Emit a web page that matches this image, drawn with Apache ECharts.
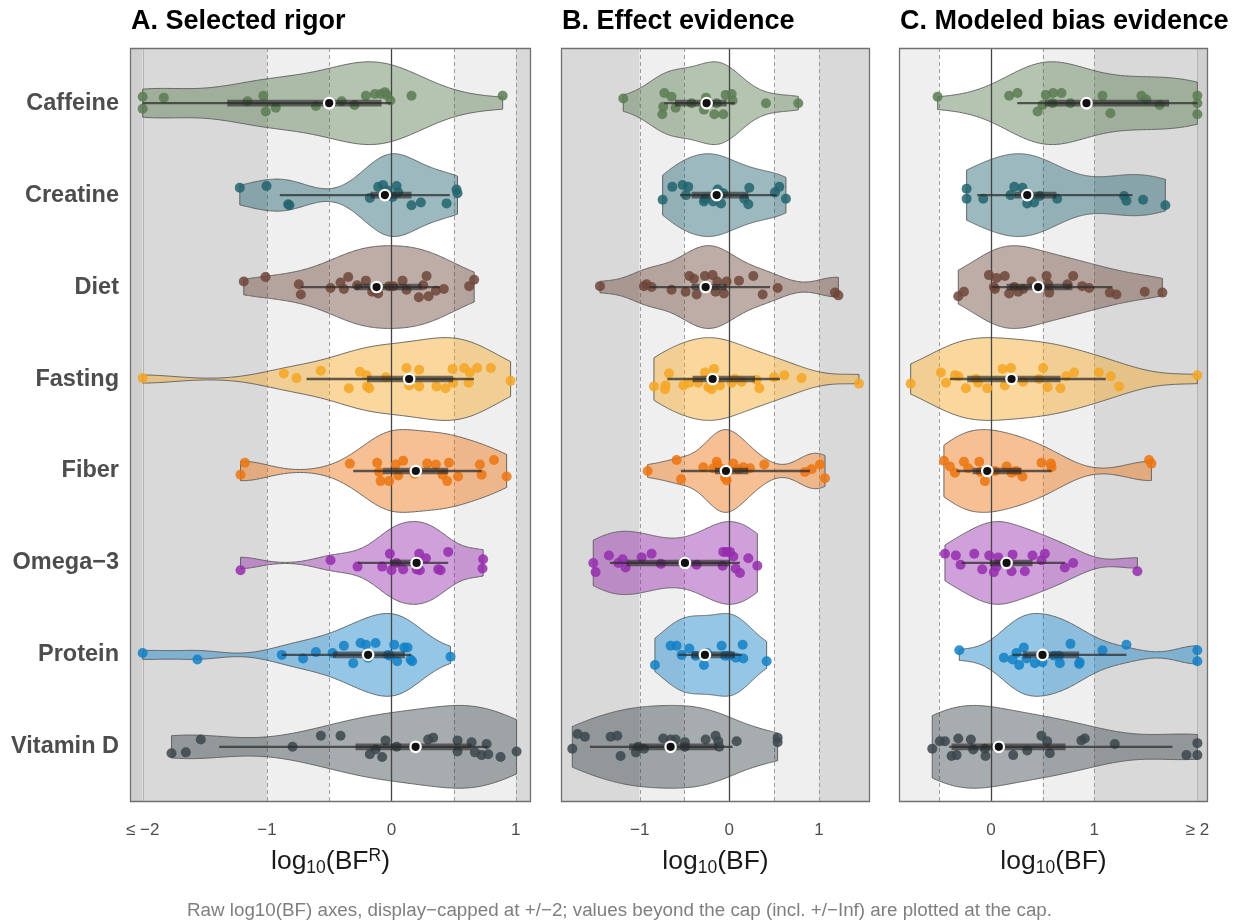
<!DOCTYPE html>
<html><head><meta charset="utf-8">
<script src="https://cdn.jsdelivr.net/npm/echarts@6/dist/echarts.min.js"></script>
<style>html,body{margin:0;padding:0;background:#fff}#c{width:1239px;height:921px}</style>
</head><body><div id="c"></div>
<script>
// ---------------- DATA ----------------
const categories = ['Caffeine','Creatine','Diet','Fasting','Fiber','Omega\u22123','Protein','Vitamin D'];

// points: [log10 value (capped), vertical jitter in category units]
const rigorPoints = [
 [[-2,-0.07],[-2,0.06],[-1.83,-0.06],[-1.157,-0.02],[-1.03,-0.08],[-1.01,0.09],[-0.93,0.05],[-0.607,0.03],[-0.40,-0.02],[-0.296,0.02],[-0.205,-0.08],[-0.133,-0.10],[-0.087,-0.10],[-0.052,-0.12],[-0.039,-0.09],[-0.007,-0.03],[0.162,-0.08],[0.895,-0.08]],
 [[-1.219,-0.08],[-1.004,-0.10],[-0.83,0.10],[-0.82,0.11],[-0.173,0.03],[-0.106,-0.09],[-0.066,-0.11],[-0.03,-0.05],[0.042,-0.10],[0.055,-0.03],[0.01,0.02],[0.162,0.11],[0.237,0.08],[0.444,0.09],[0.524,-0.06],[0.532,-0.02]],
 [[-1.187,-0.06],[-1.012,-0.11],[-0.744,-0.03],[-0.728,0.08],[-0.489,0.01],[-0.409,-0.05],[-0.382,0.02],[-0.347,-0.11],[-0.275,-0.02],[-0.205,-0.07],[-0.154,0.05],[-0.106,0.07],[-0.13,0.04],[-0.018,-0.01],[0.015,-0.01],[0.09,-0.07],[0.122,0.03],[0.221,0.11],[0.256,-0.02],[0.283,-0.12],[0.299,0.10],[0.358,0.04],[0.422,0.02],[0.626,-0.01],[0.666,-0.08]],
 [[-2,-0.01],[-0.865,-0.06],[-0.763,-0.01],[-0.567,-0.09],[-0.342,0.10],[-0.253,-0.08],[-0.2,-0.04],[-0.195,0.08],[-0.178,0.10],[-0.044,-0.02],[0.122,-0.12],[0.143,0.07],[0.224,-0.10],[0.224,0.08],[0.363,0.08],[0.436,0.10],[0.492,-0.11],[0.497,0.04],[0.586,-0.12],[0.621,0.04],[0.631,-0.07],[0.69,-0.12],[0.80,-0.12],[0.959,0.02]],
 [[-1.178,-0.09],[-1.213,0.04],[-0.334,-0.08],[-0.114,-0.09],[-0.098,0.01],[-0.087,0.11],[-0.018,0.11],[0.036,-0.07],[0.055,0.05],[0.095,-0.11],[0.189,0.03],[0.288,-0.08],[0.358,-0.07],[0.412,0.04],[0.449,0.11],[0.463,-0.09],[0.537,0.06],[0.712,-0.07],[0.726,0.04],[0.825,-0.12],[0.927,0.06]],
 [[-1.213,0.08],[-0.489,-0.03],[-0.272,0.04],[-0.074,0.04],[-0.012,-0.10],[0.001,0.08],[0.042,0.0],[0.095,0.07],[0.203,0.07],[0.224,-0.10],[0.229,0.08],[0.278,-0.05],[0.377,0.07],[0.396,0.08],[0.457,-0.12],[0.738,-0.04],[0.733,0.06]],
 [[-2,-0.02],[-1.56,0.05],[-0.881,0.0],[-0.71,0.04],[-0.607,-0.03],[-0.473,-0.02],[-0.382,-0.10],[-0.307,0.09],[-0.248,-0.13],[-0.205,-0.11],[-0.187,0.03],[-0.127,-0.13],[-0.026,0.0],[-0.01,0.01],[0.023,-0.11],[0.047,0.07],[0.103,-0.08],[0.13,-0.08],[0.154,0.05],[0.167,0.07],[0.476,0.02]],
 [[-1.768,0.07],[-1.653,0.06],[-1.533,-0.08],[-0.795,0.0],[-0.567,-0.12],[-0.409,-0.12],[-0.173,0.08],[-0.127,0.03],[-0.074,0.11],[-0.047,-0.07],[0.042,0.0],[0.296,-0.08],[0.336,-0.10],[0.532,-0.07],[0.532,0.05],[0.645,-0.05],[0.672,0.06],[0.726,0.09],[0.766,-0.03],[0.779,0.08],[0.878,0.11],[1.007,0.05]]
];
const effectPoints = [
 [[-1.183,-0.05],[-0.725,-0.11],[-0.644,-0.07],[-0.737,0.04],[-0.748,0.12],[-0.599,0.05],[-0.42,0.0],[-0.26,-0.06],[-0.283,0.07],[-0.167,0.12],[-0.141,0.0],[-0.067,0.12],[-0.041,-0.09],[0.026,-0.10],[0.037,-0.03],[0.409,0.0],[0.77,0.0]],
 [[-0.744,0.05],[-0.636,-0.09],[-0.521,-0.11],[-0.458,-0.09],[-0.484,0.0],[-0.283,0.07],[-0.272,0.04],[-0.179,0.07],[-0.13,-0.06],[-0.093,0.09],[-0.067,-0.02],[0.167,0.04],[0.212,0.10],[0.223,-0.08],[0.51,-0.03],[0.558,-0.09],[0.632,0.04]],
 [[-1.443,-0.01],[-0.952,-0.01],[-0.923,-0.03],[-0.867,0.0],[-0.644,0.03],[-0.487,0.05],[-0.446,-0.12],[-0.394,-0.09],[-0.365,0.08],[-0.272,-0.12],[-0.186,-0.13],[-0.153,0.05],[-0.134,-0.06],[-0.06,0.07],[-0.03,-0.06],[0.108,-0.07],[0.268,-0.12],[0.372,0.08],[0.539,0.01],[1.179,0.06],[1.217,0.09]],
 [[-0.841,0.08],[-0.711,0.07],[-0.718,0.11],[-0.673,-0.06],[-0.513,0.07],[-0.446,0.04],[-0.346,0.04],[-0.272,-0.07],[-0.234,0.09],[-0.197,0.11],[-0.171,-0.11],[-0.104,0.07],[0.026,0.04],[0.063,0.0],[0.138,0.03],[0.305,0.01],[0.335,0.10],[0.499,-0.02],[0.614,-0.04],[0.807,-0.01],[1.447,0.05]],
 [[-0.911,0.0],[-0.588,-0.12],[-0.539,0.09],[-0.29,-0.04],[-0.179,-0.03],[-0.141,-0.10],[-0.13,-0.06],[-0.067,-0.02],[-0.048,0.07],[-0.03,0.10],[0.045,-0.08],[0.1,-0.02],[0.156,-0.04],[0.231,-0.03],[0.39,-0.07],[0.844,0.01],[0.919,-0.02],[1.012,-0.07],[1.068,0.08]],
 [[-1.518,0.0],[-1.492,0.10],[-1.343,-0.08],[-1.239,0.0],[-1.19,-0.04],[-1.157,0.05],[-0.978,-0.06],[-0.867,-0.10],[-0.763,0.01],[-0.487,-0.01],[-0.365,0.02],[-0.067,-0.12],[-0.03,-0.12],[0.007,-0.12],[0.045,-0.07],[-0.074,0.03],[0.071,0.06],[0.119,0.11],[0.212,-0.05],[0.313,0.03]],
 [[-0.83,0.11],[-0.655,-0.10],[-0.588,-0.10],[-0.532,0.0],[-0.446,-0.07],[-0.376,0.01],[-0.283,0.11],[-0.25,-0.02],[-0.086,-0.10],[-0.048,0.01],[0.0,0.01],[0.074,0.03],[0.149,-0.11],[0.156,0.04],[0.417,0.07]],
 [[-1.752,0.02],[-1.693,-0.14],[-1.611,-0.11],[-1.324,-0.11],[-1.25,-0.12],[-1.213,0.10],[-1.042,0.06],[-1.016,0.0],[-0.952,0.02],[-0.737,-0.09],[-0.655,-0.08],[-0.599,-0.08],[-0.495,-0.05],[-0.495,0.0],[-0.264,-0.08],[-0.153,-0.12],[-0.123,-0.06],[-0.112,0.0],[0.082,-0.06],[0.539,-0.10],[0.539,-0.05]]
];
const biasPoints = [
 [[-0.516,-0.07],[0.177,-0.08],[0.258,-0.11],[0.452,0.09],[0.5,0.02],[0.532,-0.09],[0.603,-0.11],[0.597,0.0],[0.684,-0.11],[0.771,0.0],[1.081,-0.08],[1.158,0.11],[1.458,-0.08],[1.506,-0.04],[1.635,0.02],[2,-0.08],[2,0.0],[2,0.12]],
 [[-0.235,-0.07],[-0.235,0.04],[-0.074,0.04],[0.19,0.0],[0.226,-0.09],[0.306,-0.08],[0.352,0.09],[0.419,0.08],[0.474,0.01],[0.642,0.04],[1.29,0.01],[1.313,0.06],[1.474,0.05],[1.69,0.11]],
 [[-0.316,0.10],[-0.261,0.05],[-0.019,-0.13],[0.055,-0.10],[0.135,-0.12],[0.029,0.0],[0.04,0.02],[0.177,0.07],[0.226,0.0],[0.265,0.05],[0.313,0.02],[0.394,-0.06],[0.539,-0.12],[0.555,-0.03],[0.565,0.06],[0.742,-0.03],[0.797,-0.12],[0.884,-0.01],[0.952,0.01],[1.152,0.06],[1.216,0.08],[1.49,0.05],[1.661,0.06]],
 [[-0.777,0.05],[-0.484,-0.07],[-0.435,0.04],[-0.348,-0.04],[-0.316,-0.03],[-0.242,0.10],[-0.145,0.0],[-0.123,0.04],[-0.035,0.10],[0.113,-0.11],[0.194,-0.12],[0.135,0.07],[0.313,0.03],[0.468,0.0],[0.506,-0.12],[0.548,0.09],[0.674,0.10],[0.732,-0.03],[0.806,-0.07],[1.045,-0.07],[1.161,-0.03],[1.242,0.08],[2,-0.04]],
 [[-0.455,-0.11],[-0.397,-0.05],[-0.348,0.02],[-0.261,-0.10],[-0.219,-0.03],[-0.113,-0.10],[-0.1,0.01],[-0.058,0.11],[0.039,0.0],[0.152,-0.05],[0.2,0.02],[0.242,0.0],[0.306,0.06],[0.49,-0.09],[0.581,-0.08],[0.587,-0.04],[1.532,-0.12],[1.555,-0.08]],
 [[-0.445,-0.10],[-0.339,-0.08],[-0.294,0.02],[-0.161,-0.10],[-0.084,0.07],[-0.016,-0.08],[0.029,0.10],[0.055,0.04],[0.071,-0.06],[0.2,0.09],[0.21,-0.09],[0.329,0.09],[0.403,-0.08],[0.49,-0.03],[0.523,-0.10],[0.716,0.05],[0.797,0.0],[1.419,0.09]],
 [[-0.306,-0.05],[0.126,0.03],[0.21,0.05],[0.248,-0.02],[0.274,0.11],[0.319,-0.08],[0.345,0.04],[0.426,0.09],[0.5,0.08],[0.5,0.01],[0.613,0.01],[0.668,0.09],[0.66,0.01],[0.771,-0.12],[0.855,0.10],[0.86,0.08],[1.081,-0.05],[1.313,-0.11],[2,-0.05],[2,0.07]],
 [[-0.568,0.02],[-0.494,-0.06],[-0.445,-0.06],[-0.381,0.10],[-0.332,0.09],[-0.316,-0.09],[-0.194,-0.08],[-0.171,0.03],[-0.058,0.02],[-0.052,0.10],[0.216,0.09],[0.352,0.04],[0.49,-0.12],[0.545,-0.06],[0.571,0.07],[0.877,-0.07],[0.91,-0.09],[1.2,-0.03],[1.894,0.09],[2,-0.04],[2,0.09]]
];

// summaries: [lower, q1, median, q3, upper]
const rigorSummary = [
 [-2,-1.32,-0.50,-0.079,0.0],[-0.897,-0.167,-0.052,0.162,0.47],[-0.728,-0.294,-0.119,0.243,0.39],[-0.682,-0.195,0.143,0.497,0.664],
 [-0.307,-0.066,0.197,0.457,0.726],[-0.27,-0.012,0.203,0.215,0.457],[-0.88,-0.468,-0.187,0.109,0.16],[-1.385,-0.288,0.195,0.645,0.779]
];
const effectSummary = [
 [-0.725,-0.606,-0.253,-0.03,0.063],[-0.55,-0.42,-0.141,0.212,0.528],[-0.893,-0.42,-0.264,-0.03,0.454],[-0.692,-0.41,-0.186,0.286,0.565],
 [-0.54,-0.16,-0.037,0.212,0.90],[-1.332,-1.146,-0.495,0.007,0.119],[-0.569,-0.42,-0.272,0.063,0.138],[-1.555,-1.116,-0.655,-0.141,0.037]
];
const biasSummary = [
 [0.255,0.523,0.926,1.726,2.0],[-0.132,0.232,0.352,0.635,1.371],[0.006,0.152,0.458,0.79,1.177],[-0.397,-0.229,0.2,0.674,1.113],
 [-0.332,-0.177,-0.035,0.297,0.587],[-0.284,-0.01,0.152,0.403,0.716],[0.21,0.313,0.5,0.855,1.313],[-0.403,-0.381,0.077,0.723,1.758]
];

const ticksA = [-2,-1,0,1], tickLabelsA = ['\u2264 \u22122','\u22121','0','1'];
const ticksB = [-1,0,1],    tickLabelsB = ['\u22121','0','1'];
const ticksC = [0,1,2],     tickLabelsC = ['0','1','\u2265 2'];
const rangeA = [-2.102, 1.123], rangeB = [-1.878, 1.570], rangeC = [-0.890, 2.103];
const titles = ['A. Selected rigor','B. Effect evidence','C. Modeled bias evidence'];
const caption = 'Raw log10(BF) axes, display\u2212capped at +/\u22122; values beyond the cap (incl. +/\u2212Inf) are plotted at the cap.';
const cap = 2;                       // display cap
const thresholds = [0.5, 1];         // evidence guide lines

// ---------------- STYLE / LAYOUT ----------------
const FONT = "'Liberation Sans', Arial, Helvetica, sans-serif";
const groupColors = ['#5B7C52','#22646E','#6E4639','#F5A623','#EC7411','#952DAE','#1380C6','#3B474D'];
const Y_MIN = -0.6, Y_MAX = 7.6;
const grids = [
  {left:130, top:48, width:401, height:754},
  {left:561, top:48, width:309, height:754},
  {left:899, top:48, width:309, height:754}
];

function hexA(hex, a){
  const n = parseInt(hex.slice(1),16);
  return 'rgba(' + ((n>>16)&255) + ',' + ((n>>8)&255) + ',' + (n&255) + ',' + a + ')';
}

function kde(vals){
  const v = vals.slice().sort((a,b)=>a-b), n = v.length;
  const mean = v.reduce((s,x)=>s+x,0)/n;
  const sd = Math.sqrt(v.reduce((s,x)=>s+(x-mean)*(x-mean),0)/(n-1));
  const q = p => { const h=(n-1)*p, lo=Math.floor(h), hi=Math.ceil(h); return v[lo]+(h-lo)*(v[hi]-v[lo]); };
  let lo = Math.min(sd, (q(0.75)-q(0.25))/1.34);
  if (!(lo>0)) lo = sd || 1;
  const bw = 0.9*lo*Math.pow(n,-0.2);
  const N = 200, a = v[0], b = v[n-1], xs = [], ds = [];
  for (let k=0;k<N;k++){
    const t = a+(b-a)*k/(N-1); let d = 0;
    for (const x of v){ const z=(t-x)/bw; d += Math.exp(-0.5*z*z); }
    xs.push(t); ds.push(d);
  }
  const m = Math.max(...ds);
  return {xs, ws: ds.map(d=>d/m*0.45)};
}

function bandSeries(gi){
  const items = [
    {x0:-99, x1:-cap, fill:'#cfcfcf'},
    {x0:-cap, x1:-thresholds[1], fill:'#d9d9d9'},
    {x0:-thresholds[1], x1:-thresholds[0], fill:'#efefef'},
    {x0:-thresholds[0], x1:thresholds[0], fill:'#ffffff'},
    {x0:thresholds[0], x1:thresholds[1], fill:'#efefef'},
    {x0:thresholds[1], x1:cap, fill:'#d9d9d9'},
    {x0:cap, x1:99, fill:'#cfcfcf'}
  ];
  return {
    type:'custom', xAxisIndex:gi, yAxisIndex:gi, z:1, silent:true,
    data: items.map(()=>[0,0]),
    renderItem(params, api){
      const it = items[params.dataIndex], cs = params.coordSys;
      const p0 = api.coord([it.x0, 0])[0], p1 = api.coord([it.x1, 0])[0];
      const x0 = Math.max(Math.min(p0,p1), cs.x), x1 = Math.min(Math.max(p0,p1), cs.x+cs.width);
      if (x1 <= x0) return null;
      return {type:'rect', shape:{x:x0, y:cs.y, width:x1-x0, height:cs.height}, style:{fill:it.fill}};
    }
  };
}

function guideSeries(gi, z, kind){
  const items = kind === 'zero'
    ? [{x:0, stroke:'#444444', w:1.3, dash:null}]
    : [ {x:-cap, stroke:'#b5b5b5', w:1, dash:null}, {x:cap, stroke:'#b5b5b5', w:1, dash:null} ]
      .concat([-thresholds[1],-thresholds[0],thresholds[0],thresholds[1]].map(x=>({x, stroke:'#9c9c9c', w:1, dash:[4,3]})));
  return {
    type:'custom', xAxisIndex:gi, yAxisIndex:gi, z, silent:true,
    data: items.map(()=>[0,0]),
    renderItem(params, api){
      const it = items[params.dataIndex], cs = params.coordSys;
      const px = Math.round(api.coord([it.x, 0])[0]) + 0.5;
      if (px < cs.x + 1 || px > cs.x + cs.width - 1) return null;
      return {type:'line', shape:{x1:px, y1:cs.y, x2:px, y2:cs.y+cs.height},
              style:{stroke:it.stroke, lineWidth:it.w, lineDash:it.dash}};
    }
  };
}

function violinSeries(gi, pts){
  const dens = pts.map(g => kde(g.map(p=>p[0])));
  return {
    type:'custom', xAxisIndex:gi, yAxisIndex:gi, z:3, silent:true,
    data: categories.map((c,i)=>[0,i]),
    renderItem(params, api){
      const i = params.dataIndex, d = dens[i], P = [];
      for (let k=0;k<d.xs.length;k++) P.push(api.coord([d.xs[k], i - d.ws[k]]));
      for (let k=d.xs.length-1;k>=0;k--) P.push(api.coord([d.xs[k], i + d.ws[k]]));
      return {type:'polygon', shape:{points:P},
              style:{fill:hexA(groupColors[i],0.45), stroke:'#5a5a5a', lineWidth:0.9}};
    }
  };
}

function pointSeries(gi, pts){
  const data = [];
  pts.forEach((g,i)=>g.forEach(p=>data.push({value:[p[0], i + p[1]], itemStyle:{color:groupColors[i]}})));
  return {type:'scatter', xAxisIndex:gi, yAxisIndex:gi, z:5, silent:true, symbolSize:10,
          itemStyle:{opacity:0.85, borderWidth:0}, data};
}

function summarySeries(gi, summ){
  return {
    type:'custom', xAxisIndex:gi, yAxisIndex:gi, z:6, silent:true,
    data: summ.map((s,i)=>[s[2], i]),
    renderItem(params, api){
      const i = params.dataIndex, s = summ[i];
      const lo = api.coord([s[0], i]), q1 = api.coord([s[1], i]), md = api.coord([s[2], i]),
            q3 = api.coord([s[3], i]), hi = api.coord([s[4], i]);
      return {type:'group', children:[
        {type:'line', shape:{x1:lo[0], y1:lo[1], x2:hi[0], y2:hi[1]}, style:{stroke:'rgba(45,45,45,0.75)', lineWidth:2.3}},
        {type:'rect', shape:{x:q1[0], y:q1[1]-3.3, width:q3[0]-q1[0], height:6.6}, style:{fill:'rgba(40,40,40,0.62)'}},
        {type:'circle', shape:{cx:md[0], cy:md[1], r:5.2}, style:{fill:'#111111', stroke:'#ffffff', lineWidth:2.2}}
      ]};
    }
  };
}

function frameSeries(gi){
  return {
    type:'custom', xAxisIndex:gi, yAxisIndex:gi, z:8, silent:true, data:[[0,0]],
    renderItem(params){
      const cs = params.coordSys;
      return {type:'rect', shape:{x:cs.x+0.5, y:cs.y+0.5, width:cs.width-1, height:cs.height-1},
              style:{fill:null, stroke:'#707070', lineWidth:1.3}};
    }
  };
}

const nameRich = {
  a:{fontSize:26.5, lineHeight:30, verticalAlign:'middle', color:'#1a1a1a', fontFamily:FONT},
  s:{fontSize:17.5, lineHeight:17.5, verticalAlign:'bottom', color:'#1a1a1a', fontFamily:FONT},
  p:{fontSize:17.5, lineHeight:17.5, verticalAlign:'top', color:'#1a1a1a', fontFamily:FONT}
};

function xAxis(gi, range, ticks, labels, name){
  return {
    gridIndex:gi, type:'value', min:range[0], max:range[1],
    axisLine:{show:false}, splitLine:{show:false},
    axisTick:{show:true, customValues:ticks, length:4, lineStyle:{color:'#4d4d4d', width:1}},
    axisLabel:{customValues:ticks, formatter:(v)=>{const k=ticks.findIndex(t=>Math.abs(t-v)<1e-9); return k<0?'':labels[k];},
               fontSize:17, lineHeight:17, color:'#4d4d4d', fontFamily:FONT, margin:20},
    name, nameLocation:'middle', nameGap:45, nameTextStyle:{rich:nameRich, fontFamily:FONT}
  };
}

function yAxis(gi, showLabels){
  const idx = categories.map((c,i)=>i);
  return {
    gridIndex:gi, type:'value', min:Y_MIN, max:Y_MAX, inverse:true,
    axisLine:{show:false}, splitLine:{show:false},
    axisTick:{show:showLabels, customValues:idx, length:4, lineStyle:{color:'#4d4d4d'}},
    axisLabel:{show:showLabels, customValues:idx, formatter:(v)=>categories[Math.round(v)] || '',
               fontSize:23.5, fontWeight:'bold', color:'#4d4d4d', fontFamily:FONT, margin:11}
  };
}

const panels = [
  {pts:rigorPoints, summ:rigorSummary},
  {pts:effectPoints, summ:effectSummary},
  {pts:biasPoints, summ:biasSummary}
];

const series = [];
panels.forEach((p,gi)=>{
  series.push(bandSeries(gi));
  series.push(guideSeries(gi, 2, 'guides'));
  series.push(violinSeries(gi, p.pts));
  series.push(guideSeries(gi, 4, 'zero'));
  series.push(pointSeries(gi, p.pts));
  series.push(summarySeries(gi, p.summ));
  series.push(frameSeries(gi));
});

const chart = echarts.init(document.getElementById('c'), null, {renderer:'canvas'});
chart.setOption({
  animation:false,
  backgroundColor:'#ffffff',
  textStyle:{fontFamily:FONT},
  title:[
    {text:titles[0], left:131, top:6, padding:0, textStyle:{fontSize:27, fontWeight:'bold', color:'#000', lineHeight:32, fontFamily:FONT}},
    {text:titles[1], left:562, top:6, padding:0, textStyle:{fontSize:27, fontWeight:'bold', color:'#000', lineHeight:32, fontFamily:FONT}},
    {text:titles[2], left:900, top:6, padding:0, textStyle:{fontSize:27, fontWeight:'bold', color:'#000', lineHeight:32, fontFamily:FONT}},
    {text:caption, left:'center', top:901, padding:0, textStyle:{fontSize:18.8, fontWeight:'normal', color:'#7f7f7f', lineHeight:20, fontFamily:FONT}}
  ],
  grid: grids.map(g=>Object.assign({containLabel:false, outerBoundsMode:'none', show:false}, g)),
  xAxis:[
    xAxis(0, rangeA, ticksA, tickLabelsA, '{a|log}{s|10}{a|(BF}{p|R}{a|)}'),
    xAxis(1, rangeB, ticksB, tickLabelsB, '{a|log}{s|10}{a|(BF)}'),
    xAxis(2, rangeC, ticksC, tickLabelsC, '{a|log}{s|10}{a|(BF)}')
  ],
  yAxis:[yAxis(0,true), yAxis(1,false), yAxis(2,false)],
  series
});
</script>
</body></html>
